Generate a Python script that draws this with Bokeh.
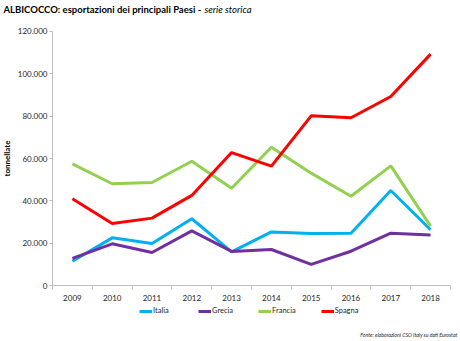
from bokeh.plotting import figure
from bokeh.models import (Range1d, FixedTicker, CustomJSTickFormatter, Legend, LegendItem, Label)
from bokeh.embed import file_html
from bokeh.resources import INLINE

years = [2009, 2010, 2011, 2012, 2013, 2014, 2015, 2016, 2017, 2018]
italia = [11600, 22600, 19900, 31600, 16000, 25400, 24700, 24800, 44900, 26400]
grecia = [12900, 19800, 15700, 25900, 16200, 17100, 10100, 16300, 24800, 23900]
francia = [57500, 48100, 48700, 58700, 46000, 65300, 53100, 42200, 56500, 28100]
spagna = [41000, 29400, 31900, 42600, 62800, 56400, 80100, 79200, 89200, 109200]
series_names = ["Italia", "Grecia", "Francia", "Spagna"]
series_colors = ["#00B0F0", "#7030A0", "#92D050", "#FF0000"]
y_ticks = [0, 20000, 40000, 60000, 80000, 100000, 120000]

FONT = "Lato"

# frame covers the whole canvas; axes are pinned inside it with fixed_location
p = figure(width=460, height=341, output_backend="svg", toolbar_location=None, title=None,
           min_border=0,
           x_range=Range1d(2007.1935, 2018.7513), y_range=Range1d(-26251, 134469),
           background_fill_color="white", border_fill_color="white")
p.outline_line_color = None
p.xgrid.visible = False
p.ygrid.visible = False

renderers = []
for name, vals, col in zip(series_names, [italia, grecia, francia, spagna], series_colors):
    r = p.line(years, vals, line_color=col, line_width=3)
    renderers.append((name, r))

xa = p.xaxis[0]
xa.fixed_location = 0
xa.bounds = (years[0] - 0.5, years[-1] + 0.5)
xa.ticker = FixedTicker(ticks=years, minor_ticks=[y - 0.5 for y in years] + [years[-1] + 0.5])
xa.major_tick_out = 0
xa.major_tick_in = 0
xa.minor_tick_out = 4
xa.minor_tick_in = 0
xa.minor_tick_line_color = "#bfbfbf"
xa.axis_line_color = "#bfbfbf"
xa.major_label_text_font = FONT
xa.major_label_text_font_size = "8px"
xa.major_label_text_color = "#262626"
xa.major_label_standoff = 5

ya = p.yaxis[0]
ya.fixed_location = years[0] - 0.5
ya.bounds = (0, 120000)
ya.ticker = FixedTicker(ticks=y_ticks)
ya.formatter = CustomJSTickFormatter(code="return tick == 0 ? '0' : (tick/1000).toFixed(0) + '.000';")
ya.major_tick_out = 3
ya.major_tick_in = 0
ya.minor_tick_out = 0
ya.minor_tick_in = 0
ya.major_tick_line_color = "#bfbfbf"
ya.axis_line_color = "#bfbfbf"
ya.major_label_text_font = FONT
ya.major_label_text_font_size = "8px"
ya.major_label_text_color = "#262626"
ya.major_label_standoff = 2
ya.axis_label = "tonnellate"
ya.axis_label_text_font = FONT
ya.axis_label_text_font_size = "8px"
ya.axis_label_text_font_style = "bold"
ya.axis_label_text_color = "#000000"
ya.axis_label_standoff = 3

legend = Legend(items=[LegendItem(label=n, renderers=[r]) for n, r in renderers],
                orientation="horizontal", location=(139, 26),
                border_line_color=None, background_fill_alpha=0,
                padding=0, margin=0, spacing=25, label_standoff=1,
                glyph_width=13, glyph_height=8, label_height=8,
                label_text_font=FONT, label_text_font_size="7.5px", label_text_color="#262626")
p.add_layout(legend, "center")

p.add_layout(Label(x=3, y=332, x_units="screen", y_units="screen", text_baseline="middle",
                   text="ALBICOCCO: esportazioni dei principali Paesi - ",
                   text_font=FONT, text_font_size="9.5px", text_font_style="bold", text_color="#000000"))
p.add_layout(Label(x=204, y=332, x_units="screen", y_units="screen", text_baseline="middle",
                   text="serie storica",
                   text_font=FONT, text_font_size="9.5px", text_font_style="italic", text_color="#000000"))
p.add_layout(Label(x=457, y=6.5, x_units="screen", y_units="screen", text_align="right",
                   text_baseline="middle", text="Fonte: elaborazioni CSO Italy su dati Eurostat",
                   text_font=FONT, text_font_size="5.2px", text_font_style="italic", text_color="#262626"))

open("out.html", "w").write(file_html(p, INLINE))
